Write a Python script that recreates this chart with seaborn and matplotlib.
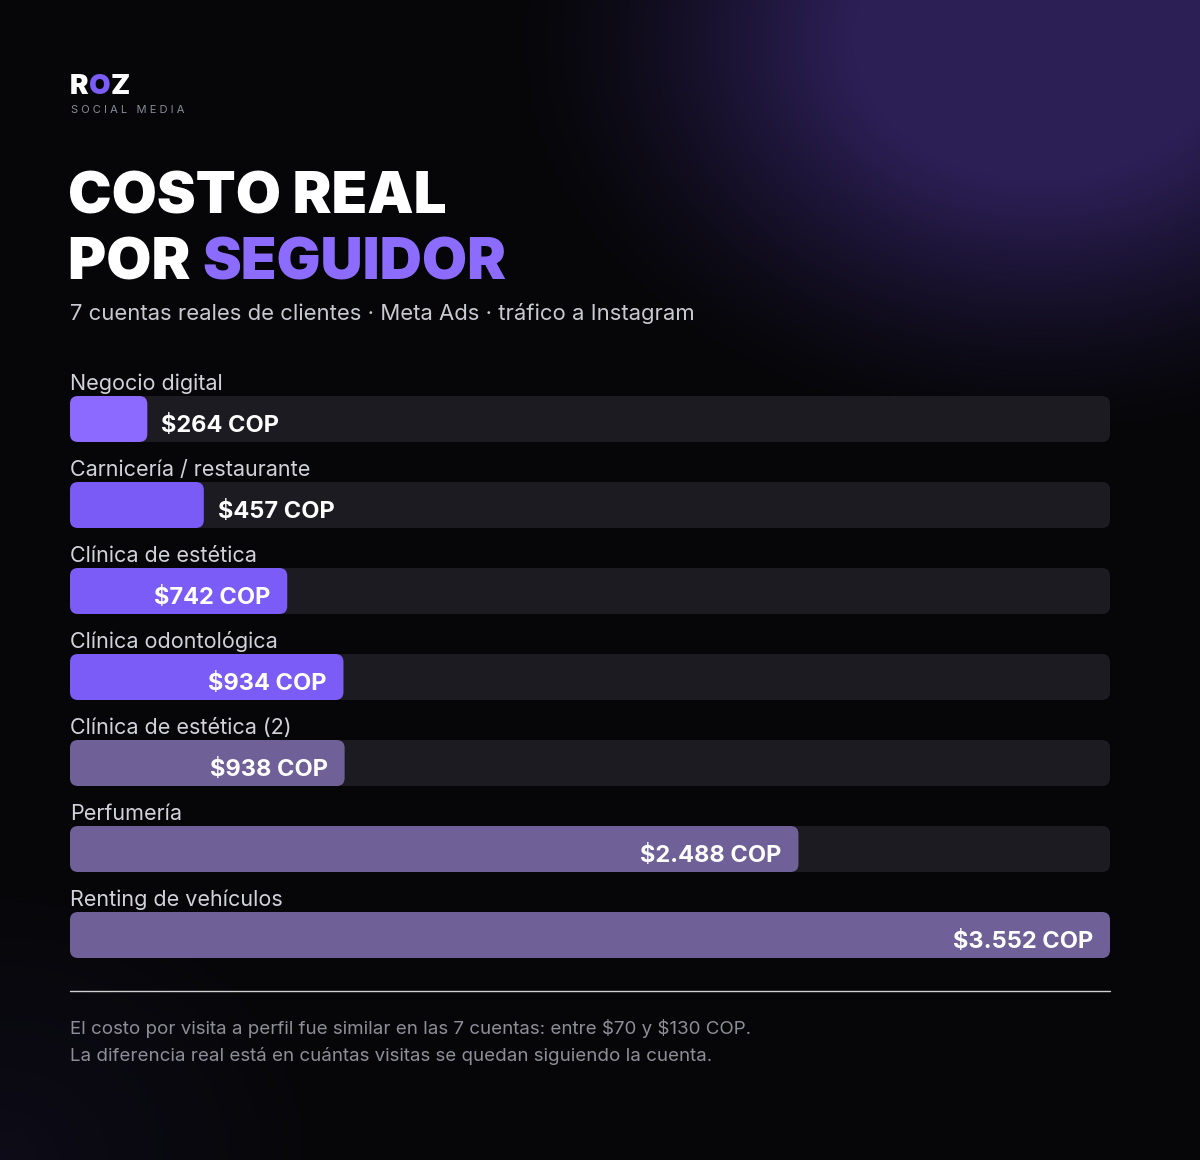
import numpy as np
import pandas as pd
import matplotlib
matplotlib.use("Agg")
import matplotlib.pyplot as plt
import seaborn as sns
from matplotlib.patches import FancyBboxPatch

# ---------------- data ----------------
categories = ["Negocio digital", "Carnicería / restaurante", "Clínica de estética",
              "Clínica odontológica", "Clínica de estética (2)", "Perfumería",
              "Renting de vehículos"]
costs = [264, 457, 742, 934, 938, 2488, 3552]
value_labels = ["$264 COP", "$457 COP", "$742 COP", "$934 COP", "$938 COP",
                "$2.488 COP", "$3.552 COP"]
bar_colors = ["#8c69ff", "#7a5bf5", "#7b5cf6", "#7b5cf6", "#6f6097", "#6f6097", "#6f6097"]

title_1 = "COSTO REAL"
title_2a = "POR "
title_2b = "SEGUIDOR"
subtitle = "7 cuentas reales de clientes · Meta Ads · tráfico a Instagram"
footer_1 = "El costo por visita a perfil fue similar en las 7 cuentas: entre $70 y $130 COP."
footer_2 = "La diferencia real está en cuántas visitas se quedan siguiendo la cuenta."

W, H = 1200, 1160
sns.set_theme(style="white")
plt.rcParams["font.family"] = ["Inter", "DejaVu Sans"]

fig = plt.figure(figsize=(12, 11.6), dpi=100)
fig.patch.set_facecolor("#060608")

# ---------------- background ----------------
bg = fig.add_axes([0, 0, 1, 1])
bg.set_axis_off()
yy, xx = np.mgrid[0:H, 0:W]
base = np.array([6, 6, 8]) / 255
glow = np.array([44, 31, 86]) / 255
d = np.sqrt(((xx - 1040) / 560) ** 2 + ((yy - 40) / 420) ** 2)
t = np.clip(1 - d, 0, 1)
t = t * t * (3 - 2 * t)
t = np.clip(t * 1.35, 0, 1)
img = base + (glow - base) * t[..., None]
d2 = np.sqrt((xx / 350) ** 2 + ((yy - H) / 300) ** 2)
t2 = np.clip(1 - d2, 0, 1) * 0.3
glow2 = np.array([30, 25, 60]) / 255
img = img + (glow2 - base) * t2[..., None]
bg.imshow(np.clip(img, 0, 1), extent=[0, W, H, 0], aspect="auto", zorder=0)
bg.set_xlim(0, W)
bg.set_ylim(H, 0)

fig.canvas.draw()
renderer = fig.canvas.get_renderer()

def seq_text(x, y, parts, **kw):
    for s, col in parts:
        tt = bg.text(x, y, s, color=col, parse_math=False, **kw)
        x = tt.get_window_extent(renderer).x1
    return x

# logo
seq_text(70, 94, [("R", "white"), ("O", "#7b5cf6"), ("Z", "white")],
         fontsize=20, fontweight="black", va="baseline")
bg.text(71, 110, " ".join("SOCIAL MEDIA"), fontsize=8, color="#8a8a9a", va="center")

# title
bg.text(68, 213, title_1, fontsize=42, fontweight="black", color="white", va="baseline")
seq_text(68, 280, [(title_2a, "white"), (title_2b, "#8b6cff")],
         fontsize=42, fontweight="black", va="baseline")
bg.text(70, 314, subtitle, fontsize=15.9, color="#c9c9d1", va="center")

# separator + footer
bg.plot([70, 1110], [990.5, 990.5], color="#d0d0d0", lw=1)
bg.text(70, 1028, footer_1, fontsize=13.5, color="#8e8e98", va="center", parse_math=False)
bg.text(70, 1056, footer_2, fontsize=13.5, color="#8e8e98", va="center", parse_math=False)

# ---------------- bars ----------------
row_px = 86
n = len(categories)
ax = fig.add_axes([70 / W, (H - 978) / H, 1040 / W, (row_px * n) / H])
ax.set_facecolor("none")
df = pd.DataFrame({"categoria": categories, "costo": costs,
                   "pista": [max(costs)] * n})
bw = 46 / row_px
sns.barplot(data=df, x="pista", y="categoria", orient="h", color="#1c1b22",
            width=bw, saturation=1, ax=ax)
sns.barplot(data=df, x="costo", y="categoria", hue="categoria", palette=bar_colors,
            orient="h", width=bw, saturation=1, legend=False, ax=ax)
ax.set_xlim(0, max(costs))
ax.set_ylim(n - 0.5, -0.5)
ax.set_axis_off()

xpp = max(costs) / 1040
ypp = 1 / row_px
for p in list(ax.patches):
    x0, y0, w, h = p.get_x(), p.get_y(), p.get_width(), p.get_height()
    fc = p.get_facecolor()
    p.remove()
    ax.add_patch(FancyBboxPatch((x0, y0), w, h,
                                boxstyle=f"round,pad=0,rounding_size={8 * xpp}",
                                mutation_aspect=ypp / xpp, fc=fc, ec="none"))

for i, (c, v, lab) in enumerate(zip(categories, costs, value_labels)):
    ax.text(0, i - bw / 2 - 12 * ypp, c, ha="left", va="center", color="#d2d2da",
            fontsize=15.5, clip_on=False)
    if v / xpp > 180:
        ax.text(v - 17 * xpp, i + 0.085, lab, ha="right", va="center", color="white",
                fontsize=17, fontweight="bold", parse_math=False)
    else:
        ax.text(v + 14 * xpp, i + 0.085, lab, ha="left", va="center", color="white",
                fontsize=17, fontweight="bold", parse_math=False)

fig.savefig("out.png", dpi=100, facecolor=fig.get_facecolor())
